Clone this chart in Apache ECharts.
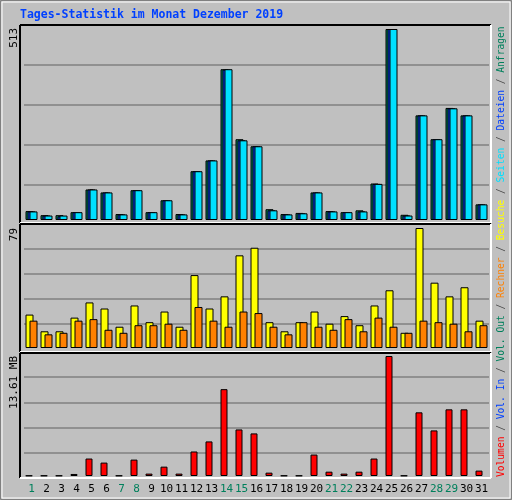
<!DOCTYPE html>
<html><head><meta charset="utf-8">
<script src="https://cdn.jsdelivr.net/npm/echarts@6/dist/echarts.min.js"></script>
<style>html,body{margin:0;padding:0;background:#c0c0c0}#c{width:512px;height:500px}</style>
</head><body><div id="c"></div>
<script>
const days = ['1','2','3','4','5','6','7','8','9','10','11','12','13','14','15','16','17','18','19','20','21','22','23','24','25','26','27','28','29','30','31'];
const weekend = ['1','7','8','14','15','21','22','28','29'];
const anfragen = [24,13,13,21,82,74,16,80,21,53,16,131,160,405,217,198,29,16,19,74,24,21,26,98,513,14,281,217,301,281,42];
const dateien  = [23,12,10,21,82,74,15,80,21,53,15,131,160,404,214,198,26,15,18,74,23,21,23,97,513,12,281,217,300,281,42];
const seiten   = [23,12,12,21,82,74,15,80,21,53,15,131,160,405,214,198,26,15,18,74,23,21,23,97,513,12,281,217,300,281,42];
const besuche  = [22,11,11,20,30,26,14,28,17,24,14,48,26,34,61,66,17,11,17,24,16,21,15,28,38,10,79,43,34,40,18];
const rechner  = [18,9,10,18,19,12,10,15,15,16,12,27,18,14,24,23,14,9,17,14,12,19,11,20,14,10,18,17,16,11,15];
const volumenMB = [0.05,0.05,0.05,0.23,1.98,1.52,0.05,1.86,0.27,1.06,0.27,2.78,3.92,9.85,5.28,4.83,0.38,0.05,0.05,2.43,0.49,0.27,0.49,1.98,13.61,0.05,7.22,5.17,7.56,7.56,0.61];
const maxTop = 513, maxMid = 79, maxBot = 13.61;
const gridTop = [94,201.4,308.9,416.3];
const gridMid = [15.8,32.3,48.7,65.2];
const gridBot = [2.66,5.51,8.36,11.2];

const chart = echarts.init(document.getElementById('c'));
const mono = 'DejaVu Sans Mono';
function ml(vals){return {silent:true,symbol:'none',label:{show:false},lineStyle:{color:'#808080',type:'solid',width:1.5},data:vals.map(v=>({yAxis:v})),z:0};}
const bs = c=>({color:c,borderColor:'#000',borderWidth:1});
const xa = (i,show)=>({type:'category',gridIndex:i,data:days,axisLine:{show:false},axisTick:{show:false},
  axisLabel:{show:show,margin:8,fontFamily:mono,fontSize:11,color:v=>weekend.includes(v)?'#00805c':'#000',interval:0}});
const ya = (i,m)=>({type:'value',gridIndex:i,min:0,max:m,show:false,splitLine:{show:false}});
function panel(x,y,w,h){return [
  {type:'line',shape:{x1:x,y1:y,x2:x+w,y2:y},style:{stroke:'#000',lineWidth:2}},
  {type:'line',shape:{x1:x,y1:y,x2:x,y2:y+h},style:{stroke:'#000',lineWidth:2}},
  {type:'line',shape:{x1:x,y1:y+h,x2:x+w,y2:y+h},style:{stroke:'#fff',lineWidth:2}},
  {type:'line',shape:{x1:x+w,y1:y,x2:x+w,y2:y+h},style:{stroke:'#fff',lineWidth:2}}];}
const sep=' / ';
chart.setOption({
  backgroundColor:'#c0c0c0',animation:false,
  grid:[{left:24,right:23,top:29,bottom:280},{left:24,right:23,top:228,bottom:152},{left:24,right:23,top:356,bottom:24}],
  xAxis:[xa(0,false),xa(1,false),xa(2,true)],
  yAxis:[ya(0,maxTop),ya(1,maxMid),ya(2,maxBot)],
  series:[
    {type:'bar',xAxisIndex:0,yAxisIndex:0,data:anfragen,barWidth:8,barGap:'-75%',itemStyle:bs('#00805c'),markLine:ml(gridTop)},
    {type:'bar',xAxisIndex:0,yAxisIndex:0,data:dateien,barWidth:8,barGap:'-75%',itemStyle:bs('#0040ff')},
    {type:'bar',xAxisIndex:0,yAxisIndex:0,data:seiten,barWidth:8,barGap:'-75%',itemStyle:bs('#00e0ff')},
    {type:'bar',xAxisIndex:1,yAxisIndex:1,data:besuche,barWidth:8,barGap:'-50%',itemStyle:bs('#ffff00'),markLine:ml(gridMid)},
    {type:'bar',xAxisIndex:1,yAxisIndex:1,data:rechner,barWidth:8,barGap:'-50%',itemStyle:bs('#ff8000')},
    {type:'bar',xAxisIndex:2,yAxisIndex:2,data:volumenMB,barWidth:7,barGap:'0%',itemStyle:bs('#ff0000'),markLine:ml(gridBot)},
    {type:'bar',xAxisIndex:2,yAxisIndex:2,data:volumenMB.map(()=>0),barWidth:5,barGap:'0%',itemStyle:{color:'transparent'},silent:true}
  ],
  graphic:[
    {type:'rect',shape:{x:0.5,y:0.5,width:511,height:499},style:{fill:'none',stroke:'#808080',lineWidth:1},silent:true},
    {type:'rect',shape:{x:2,y:2,width:508,height:496},style:{fill:'none',stroke:'#fff',lineWidth:1},silent:true},
    ...panel(20,25,471,198),...panel(20,224,471,128),...panel(20,353,471,125),
    {type:'text',x:20,y:15,style:{text:'Tages-Statistik im Monat Dezember 2019',font:'bold 11.5px '+mono,fill:'#0040ff',textVerticalAlign:'middle'}},
    {type:'text',x:14,y:28,rotation:Math.PI/2,style:{text:'513',font:'11px '+mono,fill:'#000',textAlign:'right',textVerticalAlign:'middle'}},
    {type:'text',x:14,y:228,rotation:Math.PI/2,style:{text:'79',font:'11px '+mono,fill:'#000',textAlign:'right',textVerticalAlign:'middle'}},
    {type:'text',x:14,y:356,rotation:Math.PI/2,style:{text:'13.61 MB',font:'11px '+mono,fill:'#000',textAlign:'right',textVerticalAlign:'middle'}},
    {type:'text',x:501,y:477,rotation:Math.PI/2,style:{
      text:'{r|Volumen}{s|'+sep+'}{b|Vol. In}{s|'+sep+'}{g|Vol. Out}{s|'+sep+'}{o|Rechner}{s|'+sep+'}{y|Besuche}{s|'+sep+'}{c|Seiten}{s|'+sep+'}{b|Dateien}{s|'+sep+'}{g|Anfragen}',
      textAlign:'left',textVerticalAlign:'middle',font:'9.6px '+mono,
      rich:{r:{fill:'#ff0000',font:'9.6px '+mono},b:{fill:'#0040ff',font:'9.6px '+mono},g:{fill:'#00805c',font:'9.6px '+mono},
            o:{fill:'#ff8000',font:'9.6px '+mono},y:{fill:'#ffff00',font:'9.6px '+mono},c:{fill:'#00e0ff',font:'9.6px '+mono},s:{fill:'#404040',font:'9.6px '+mono}}}}
  ]
});
</script></body></html>
